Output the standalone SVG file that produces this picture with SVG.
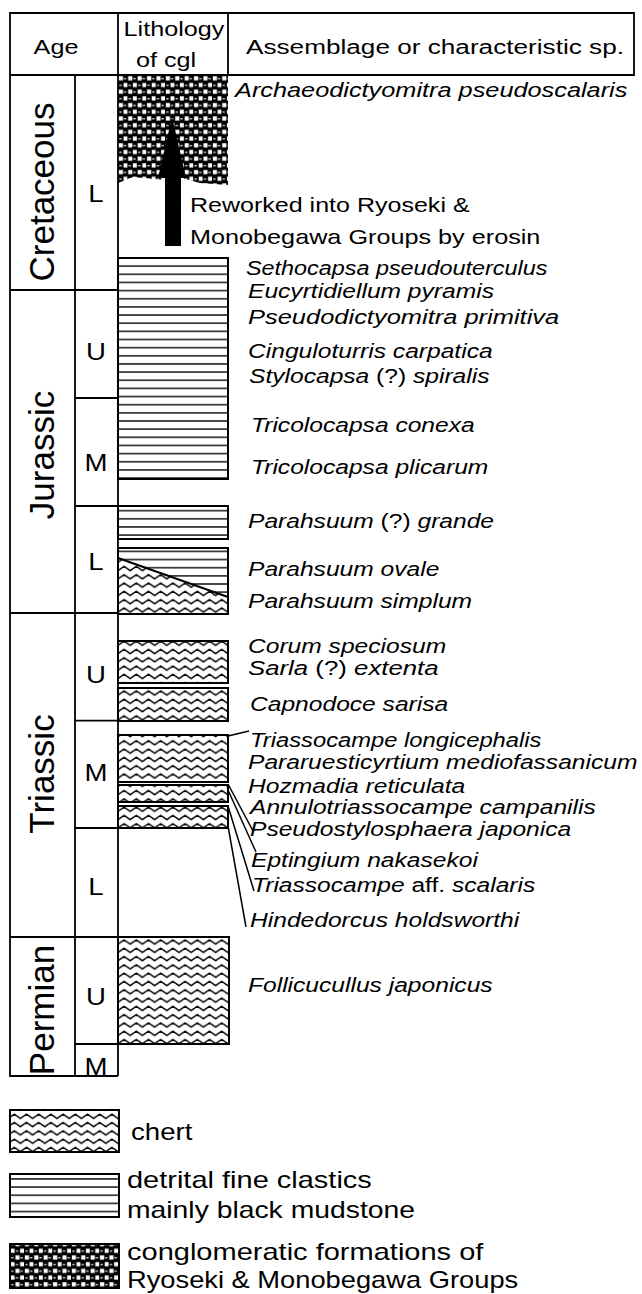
<svg xmlns="http://www.w3.org/2000/svg" width="642" height="1294" viewBox="0 0 642 1294">
<style>
.t{font-family:"Liberation Sans",Arial,sans-serif;fill:#000}
.sp{font-family:"Liberation Sans",Arial,sans-serif;font-style:italic;font-size:20px;fill:#000}
.up{font-style:normal}
.hd{font-size:21px}
.rw{font-size:20.5px}
.ep{font-size:23px;text-anchor:middle}
.era{font-size:35px;text-anchor:middle}
.lg{font-size:23px}
.ln{stroke:#000;stroke-width:1.8;fill:none}
.bx{stroke:#000;stroke-width:2}
.ld{stroke:#000;stroke-width:1.5;fill:none}
</style>
<defs>
<pattern id="chert" patternUnits="userSpaceOnUse" x="118" y="0" width="12.2" height="8.3">
<rect width="12.2" height="8.3" fill="#fff"/>
<path d="M-6.1,2 L0,6.2 L6.1,2 L12.2,6.2 L18.3,2" fill="none" stroke="#000" stroke-width="1.4"/>
</pattern>
<pattern id="mud" patternUnits="userSpaceOnUse" x="0" y="258" width="20" height="8.15">
<rect width="20" height="8.15" fill="#fff"/>
<path d="M0,0H20M0,8.15H20" stroke="#000" stroke-width="1.5"/>
</pattern>
<pattern id="cgl" patternUnits="userSpaceOnUse" x="118" y="75" width="9.4" height="13.4">
<rect width="9.4" height="13.4" fill="#000"/>
<rect x="0.8" y="1.2" width="4.2" height="4.2" fill="#fff"/>
<rect x="5.5" y="7.9" width="4.2" height="4.2" fill="#fff"/>
<rect x="6" y="3" width="2.2" height="1.2" fill="#fff"/>
<rect x="1.3" y="9.7" width="2.2" height="1.2" fill="#fff"/>
</pattern>
</defs>
<rect width="642" height="1294" fill="#fff"/>

<g id="table">
<path class="ln" d="M10,13H634V75H10Z M118,13V1076 M228,13V75 M10,75V1076H118 M75,75V1076 M10,290H118 M10,613H118 M10,937H118 M75,398H118 M75,506H118 M75,720.7H118 M75,828H118 M75,1044H118"/>
<text class="t hd" transform="translate(56 54) scale(1.2 1)" text-anchor="middle">Age</text>
<text class="t hd" transform="translate(174 36) scale(1.2 1)" text-anchor="middle">Lithology</text>
<text class="t hd" transform="translate(166 67) scale(1.2 1)" text-anchor="middle">of cgl</text>
<text class="t hd" transform="translate(246 54) scale(1.2 1)" textLength="315" lengthAdjust="spacingAndGlyphs">Assemblage or characteristic sp.</text>
</g>

<g id="eras">
<text class="t era" transform="translate(54 192) rotate(-90)">Cretaceous</text>
<text class="t era" transform="translate(54 455) rotate(-90)">Jurassic</text>
<text class="t era" transform="translate(54 774) rotate(-90)">Triassic</text>
<text class="t era" transform="translate(54 1010) rotate(-90)">Permian</text>
</g>

<g id="epochs">
<text class="t ep" transform="translate(96 202) scale(1.2 1)">L</text>
<text class="t ep" transform="translate(96 360) scale(1.2 1)">U</text>
<text class="t ep" transform="translate(96 471) scale(1.2 1)">M</text>
<text class="t ep" transform="translate(96 570) scale(1.2 1)">L</text>
<text class="t ep" transform="translate(96 683) scale(1.2 1)">U</text>
<text class="t ep" transform="translate(96 781) scale(1.2 1)">M</text>
<text class="t ep" transform="translate(96 895) scale(1.2 1)">L</text>
<text class="t ep" transform="translate(96 1005) scale(1.2 1)">U</text>
<text class="t ep" transform="translate(96 1075) scale(1.2 1)">M</text>
</g>

<g id="conglomerate">
<path d="M118,75H228V185L200,183L182,178L165,180L133,177L118,183Z" fill="url(#cgl)"/>
<path d="M172,117L186,178L181,178V246H165V178L158,178Z" fill="#000"/>
<text class="t rw" transform="translate(190 212) scale(1.2 1)" textLength="233" lengthAdjust="spacingAndGlyphs">Reworked into Ryoseki &amp;</text>
<text class="t rw" transform="translate(190 244) scale(1.2 1)" textLength="292" lengthAdjust="spacingAndGlyphs">Monobegawa Groups by erosin</text>
</g>

<g id="mudstone">
<rect class="bx" x="118" y="258" width="110" height="221" fill="url(#mud)"/>
<rect class="bx" x="118" y="506" width="110" height="33" fill="url(#mud)"/>
<rect class="bx" x="118" y="548" width="110" height="66" fill="url(#mud)"/>
<path class="bx" d="M118,558L228,597V614H118Z" fill="url(#chert)"/>
</g>

<g id="chert-beds">
<rect class="bx" x="118" y="641" width="110" height="42" fill="url(#chert)"/>
<rect class="bx" x="118" y="688" width="110" height="33" fill="url(#chert)"/>
<rect class="bx" x="118" y="735" width="110" height="47" fill="url(#chert)"/>
<rect class="bx" x="118" y="785" width="110" height="17" fill="url(#chert)"/>
<rect class="bx" x="118" y="806" width="110" height="22" fill="url(#chert)"/>
<rect class="bx" x="118" y="937" width="111" height="107" fill="url(#chert)"/>
</g>

<g id="connectors">
<path class="ld" d="M228,736L249,731"/>
<path class="ld" d="M228,784L253,831"/>
<path class="ld" d="M228,790L256,852"/>
<path class="ld" d="M228,806L254,891"/>
<path class="ld" d="M228,826L246,927"/>
</g>

<g id="species">
<text class="sp" transform="translate(235 97) scale(1.23 1)" textLength="319" lengthAdjust="spacingAndGlyphs">Archaeodictyomitra pseudoscalaris</text>
<text class="sp" transform="translate(246 275) scale(1.23 1)" textLength="245" lengthAdjust="spacingAndGlyphs">Sethocapsa pseudouterculus</text>
<text class="sp" transform="translate(248 297.5) scale(1.23 1)">Eucyrtidiellum pyramis</text>
<text class="sp" transform="translate(248 324) scale(1.23 1)" textLength="253" lengthAdjust="spacingAndGlyphs">Pseudodictyomitra primitiva</text>
<text class="sp" transform="translate(248 358) scale(1.23 1)">Cinguloturris carpatica</text>
<text class="sp" transform="translate(249 383) scale(1.23 1)">Stylocapsa <tspan class="up">(?)</tspan> spiralis</text>
<text class="sp" transform="translate(251 432) scale(1.23 1)">Tricolocapsa conexa</text>
<text class="sp" transform="translate(251 474) scale(1.23 1)">Tricolocapsa plicarum</text>
<text class="sp" transform="translate(248 528) scale(1.23 1)">Parahsuum <tspan class="up">(?)</tspan> grande</text>
<text class="sp" transform="translate(248 576) scale(1.23 1)">Parahsuum ovale</text>
<text class="sp" transform="translate(248 608) scale(1.23 1)">Parahsuum simplum</text>
<text class="sp" transform="translate(248 653) scale(1.23 1)">Corum speciosum</text>
<text class="sp" transform="translate(248 675) scale(1.23 1)" textLength="155" lengthAdjust="spacingAndGlyphs">Sarla <tspan class="up">(?)</tspan> extenta</text>
<text class="sp" transform="translate(250 711) scale(1.23 1)">Capnodoce sarisa</text>
<text class="sp" transform="translate(250 747) scale(1.23 1)" textLength="237" lengthAdjust="spacingAndGlyphs">Triassocampe longicephalis</text>
<text class="sp" transform="translate(248 769) scale(1.23 1)">Pararuesticyrtium mediofassanicum</text>
<text class="sp" transform="translate(248 793) scale(1.23 1)">Hozmadia reticulata</text>
<text class="sp" transform="translate(250 814) scale(1.23 1)">Annulotriassocampe campanilis</text>
<text class="sp" transform="translate(250 836) scale(1.23 1)">Pseudostylosphaera japonica</text>
<text class="sp" transform="translate(251 867) scale(1.23 1)">Eptingium nakasekoi</text>
<text class="sp" transform="translate(252 892) scale(1.23 1)">Triassocampe <tspan class="up">aff.</tspan> scalaris</text>
<text class="sp" transform="translate(250 927) scale(1.23 1)">Hindedorcus holdsworthi</text>
<text class="sp" transform="translate(248 992) scale(1.23 1)">Follicucullus japonicus</text>
</g>

<g id="legend">
<rect class="bx" x="10" y="1110" width="109" height="42" fill="url(#chert)"/>
<text class="t lg" transform="translate(131 1140) scale(1.2 1)">chert</text>
<rect class="bx" x="10" y="1174" width="109" height="43" fill="url(#mud)"/>
<text class="t lg" transform="translate(127 1188) scale(1.2 1)" textLength="204" lengthAdjust="spacingAndGlyphs">detrital fine clastics</text>
<text class="t lg" transform="translate(127 1218) scale(1.2 1)" textLength="240" lengthAdjust="spacingAndGlyphs">mainly black mudstone</text>
<rect class="bx" x="10" y="1244" width="109" height="44" fill="url(#cgl)"/>
<text class="t lg" transform="translate(127 1260) scale(1.2 1)" textLength="297" lengthAdjust="spacingAndGlyphs">conglomeratic formations of</text>
<text class="t lg" transform="translate(127 1288) scale(1.2 1)" textLength="326" lengthAdjust="spacingAndGlyphs">Ryoseki &amp; Monobegawa Groups</text>
</g>
</svg>
